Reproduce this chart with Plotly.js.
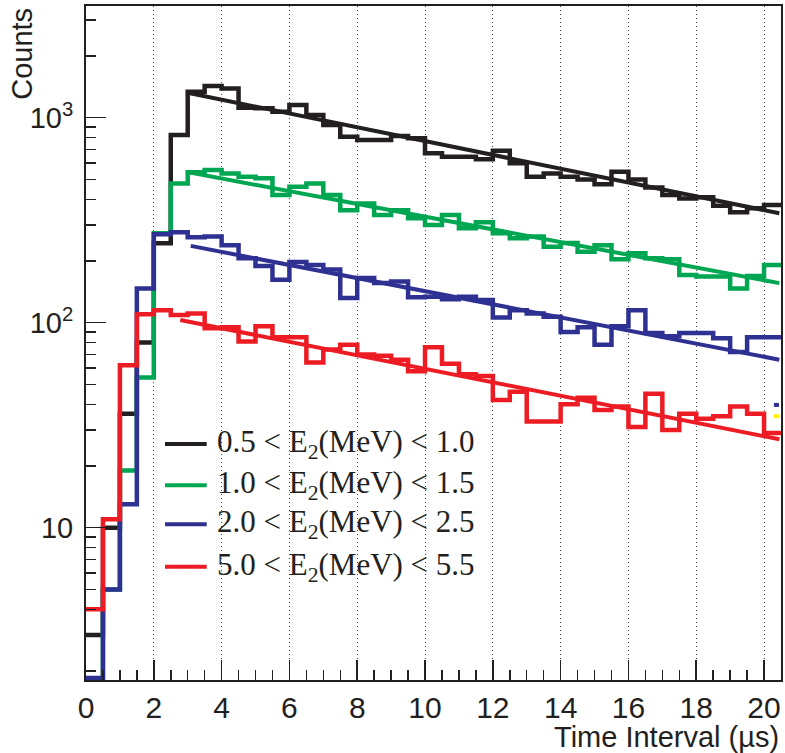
<!DOCTYPE html>
<html>
<head>
<meta charset="utf-8">
<script src="https://cdn.plot.ly/plotly-3.0.1.min.js"></script>
<style>
  html, body { margin: 0; padding: 0; background: #ffffff; }
  #chart { width: 785px; height: 753px; }
</style>
</head>
<body>
<div id="chart"></div>
<script>
// Time-interval spectra for four E2 energy windows (0.5 µs bins, log counts)
const binLow = [0, 0.5, 1, 1.5, 2, 2.5, 3, 3.5, 4, 4.5, 5, 5.5, 6, 6.5, 7, 7.5, 8, 8.5, 9, 9.5,
                10, 10.5, 11, 11.5, 12, 12.5, 13, 13.5, 14, 14.5, 15, 15.5, 16, 16.5, 17, 17.5,
                18, 18.5, 19, 19.5, 20];
const binWidth = 0.5;

const labels = [
  "0.5 &lt; E<sub>2</sub>(MeV) &lt; 1.0",
  "1.0 &lt; E<sub>2</sub>(MeV) &lt; 1.5",
  "2.0 &lt; E<sub>2</sub>(MeV) &lt; 2.5",
  "5.0 &lt; E<sub>2</sub>(MeV) &lt; 5.5"
];
const colors = ["#231f20", "#00a651", "#2e3192", "#ed1c24"];

const countsE05 = [3, 10, 36, 80, 244, 824, 1340, 1429, 1390, 1119, 1112, 1070, 1153, 1030, 921,
                   807, 778, 778, 815, 794, 670, 645, 645, 627, 690, 599, 515, 535, 515, 500,
                   473, 545, 500, 457, 420, 404, 409, 372, 346, 362, 375];
const countsE10 = [1.5, 5, 19, 54, 273, 478, 542, 556, 535, 515, 506, 420, 461, 478, 420,
                   354, 382, 335, 354, 323, 300, 335, 289, 309, 273, 258, 263, 235, 245, 222,
                   239, 204, 218, 206, 204, 171, 168, 168, 147, 169, 191];
const countsE20 = [1.85, 5, 13, 147, 270, 276, 261, 263, 239, 206, 189, 162, 198, 191, 182,
                   132, 165, 156, 159, 133, 134, 130, 134, 129, 106, 115, 111, 107, 90, 95,
                   78, 96, 115, 89, 86, 89, 89, 84, 72, 85, 85];
const countsE50 = [4, 11, 62, 110, 115, 109, 111, 94, 95, 81, 96, 85, 85, 64, 74,
                   78, 70, 69, 66, 58, 76, 63, 56, 55, 42, 46, 33, 33, 40, 43,
                   37.5, 39, 31, 45, 30, 36, 34, 35, 39, 36, 29];

// exponential fits: straight lines on the log axis, given by their end points
const fitX = [[3.07, 20.45], [3.07, 20.45], [3.09, 20.45], [2.78, 20.45]];
const fitY = [[1316, 342], [540, 156], [237, 66], [103, 27]];

// short fit stubs poking in at the right edge
const stubX = [20.29, 20.44];
const stubBlueY = [39.7, 39.7];
const stubYellowY = [35, 35];

const series = [countsE05, countsE10, countsE20, countsE50];

function stepTrace(counts, color) {
  const x = binLow.concat([binLow[binLow.length - 1] + binWidth]);
  const y = counts.concat([counts[counts.length - 1]]);
  return {
    type: "scatter", mode: "lines", x: x, y: y,
    line: { shape: "hv", color: color, width: 4.5 },
    hoverinfo: "skip", showlegend: false
  };
}

const traces = [];
series.forEach((counts, i) => {
  traces.push(stepTrace(counts, colors[i]));
  traces.push({
    type: "scatter", mode: "lines", x: fitX[i], y: fitY[i],
    line: { color: colors[i], width: 4 }, hoverinfo: "skip", showlegend: false
  });
});
traces.push({ type: "scatter", mode: "lines", x: stubX, y: stubBlueY,
  line: { color: "#2e3192", width: 4 }, hoverinfo: "skip", showlegend: false });
traces.push({ type: "scatter", mode: "lines", x: stubX, y: stubYellowY,
  line: { color: "#fff200", width: 4 }, hoverinfo: "skip", showlegend: false });
// empty holder so the small title axis over the top of the frame gets drawn
traces.push({ type: "scatter", mode: "lines", x: [], y: [], xaxis: "x2", yaxis: "y2",
  hoverinfo: "skip", showlegend: false });

const sans = "Liberation Sans, Arial, sans-serif";
const serif = "Liberation Serif, Times New Roman, serif";
const ink = "#231f20";

const minorY = [];
[1, 10, 100, 1000].forEach(d => {
  for (let k = 2; k <= 9; k++) minorY.push(k * d);
});

// legend rows: sample line + label, placed in plot-paper coordinates
const legendRowY = [0.350, 0.289, 0.231, 0.168];
const shapes = [];
const annotations = [];
legendRowY.forEach((yy, i) => {
  shapes.push({ type: "line", xref: "paper", yref: "paper",
    x0: 0.1137, x1: 0.1737, y0: yy, y1: yy,
    line: { color: colors[i], width: 4 } });
  annotations.push({ xref: "paper", yref: "paper", x: 0.186, y: yy,
    xanchor: "left", yanchor: "middle", showarrow: false,
    text: labels[i], font: { family: serif, size: 31, color: ink } });
});

// x-axis title sits flush right under the axis
annotations.push({ xref: "paper", yref: "paper", x: 1.0, y: -0.085,
  xanchor: "right", yanchor: "middle", showarrow: false,
  text: "Time Interval (µs)", font: { family: sans, size: 29, color: ink } });

const layout = {
  width: 785, height: 753,
  margin: { l: 86, r: 4, t: 6, b: 73, pad: 0 },
  paper_bgcolor: "#ffffff", plot_bgcolor: "rgba(0,0,0,0)",
  showlegend: false,
  xaxis: {
    range: [0, 20.5], dtick: 2, tick0: 0,
    ticks: "inside", ticklen: 20, tickwidth: 1.5, tickcolor: ink,
    showline: true, linecolor: ink, linewidth: 2, mirror: true,
    showgrid: true, gridcolor: "#444444", gridwidth: 1, griddash: "1px,3px",
    zeroline: false,
    tickfont: { family: sans, size: 30, color: ink },
    ticklabelstandoff: 0,
    minor: { dtick: 0.5, tick0: 0, ticks: "inside", ticklen: 10, tickwidth: 1.5,
             tickcolor: ink, showgrid: false }
  },
  yaxis: {
    type: "log", range: [0.257, 3.545],
    tickmode: "array", tickvals: [10, 100, 1000],
    ticktext: ["10", "10<sup>2</sup>", "10<sup>3</sup>"],
    ticks: "inside", ticklen: 20, tickwidth: 1.5, tickcolor: ink,
    showline: true, linecolor: ink, linewidth: 2, mirror: true,
    showgrid: false, zeroline: false,
    tickfont: { family: sans, size: 29, color: ink },
    ticklabelstandoff: 5,
    minor: { tickmode: "array", tickvals: minorY, ticks: "inside", ticklen: 10,
             tickwidth: 1.5, tickcolor: ink, showgrid: false }
  },
  xaxis2: {
    anchor: "y2", domain: [0, 1], range: [0, 1], visible: false, fixedrange: true
  },
  // bare companion axis over the top of the frame, carrying the "Counts" title
  yaxis2: {
    domain: [0.858, 1.0], anchor: "free", position: 0, side: "left", range: [0, 1],
    showline: false, showgrid: false, zeroline: false, ticks: "",
    showticklabels: false, fixedrange: true,
    title: { text: "Counts", standoff: 43, font: { family: sans, size: 29, color: ink } }
  },
  shapes: shapes,
  annotations: annotations
};

Plotly.newPlot("chart", traces, layout, { staticPlot: true, displayModeBar: false });
</script>
</body>
</html>
